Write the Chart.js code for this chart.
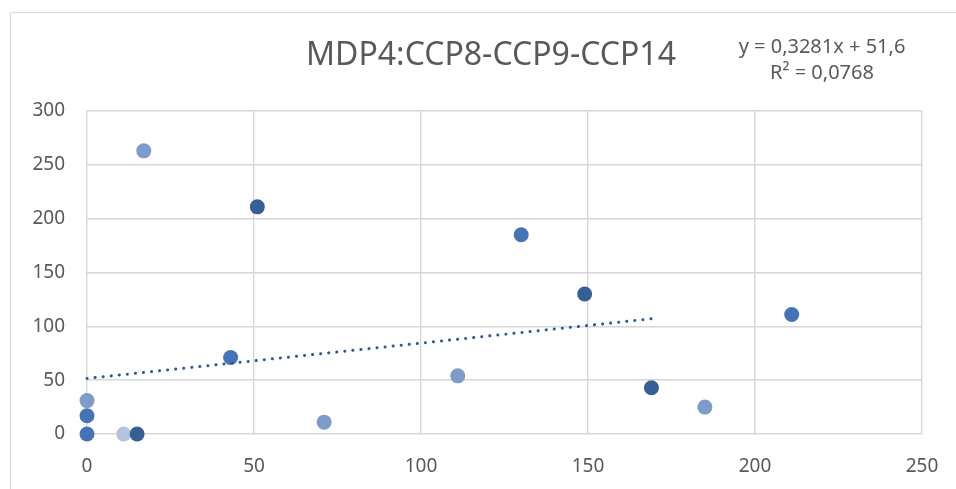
<!DOCTYPE html>
<html>
<head>
<meta charset="utf-8">
<script src="https://cdn.jsdelivr.net/npm/chart.js@4"></script>
<style>
  html, body { margin: 0; padding: 0; background: #ffffff; }
  #wrap { width: 956px; height: 489px; }
</style>
</head>
<body>
<div id="wrap"><canvas id="c" width="956" height="489"></canvas></div>
<script>
// Samples grouped by marker shade
const darkX = [51, 149, 169, 15];
const darkY = [211, 130, 43, 0];
const midX = [130, 211, 43, 0, 0];
const midY = [185, 111, 71, 17, 0];
const lightX = [17, 111, 71, 185, 0];
const lightY = [263, 54, 11, 25, 31];
const paleX = [11];
const paleY = [0];

// Linear trend fitted to the samples
const trendSlope = 0.3281;
const trendIntercept = 51.6;
const trendRange = [0, 169];
const equationLines = ['y = 0,3281x + 51,6', 'R\u00B2 = 0,0768'];
const chartTitle = 'MDP4:CCP8-CCP9-CCP14';

const xTicks = [0, 50, 100, 150, 200, 250];
const yTicks = [0, 50, 100, 150, 200, 250, 300];

const FONT = '"Noto Sans", "Open Sans", sans-serif';
const TEXT = '#595959';

const pts = (xs, ys) => xs.map((x, i) => ({ x: x, y: ys[i] }));
const trendPts = trendRange.map(x => ({ x: x, y: trendSlope * x + trendIntercept }));

const frame = {
  id: 'frame',
  beforeDraw(chart) {
    const ctx = chart.ctx;
    ctx.save();
    ctx.strokeStyle = '#D9D9D9';
    ctx.lineWidth = 1;
    ctx.beginPath();
    ctx.moveTo(10.5, 489);
    ctx.lineTo(10.5, 12.5);
    ctx.lineTo(956, 12.5);
    ctx.stroke();
    ctx.restore();
  },
  afterDraw(chart) {
    const ctx = chart.ctx;
    ctx.save();
    ctx.fillStyle = TEXT;
    ctx.textAlign = 'center';
    ctx.textBaseline = 'middle';
    ctx.font = '32px ' + FONT;
    ctx.fillText(chartTitle, 491, 56);
    ctx.font = '20px ' + FONT;
    ctx.fillText(equationLines[0], 822, 47);
    ctx.fillText(equationLines[1], 822, 73);
    ctx.restore();
  }
};

const marker = (color) => ({
  showLine: false,
  clip: false,
  pointRadius: 7.5,
  pointHoverRadius: 7.5,
  pointBackgroundColor: color,
  pointBorderColor: color,
  pointBorderWidth: 0
});

new Chart(document.getElementById('c'), {
  type: 'scatter',
  data: {
    datasets: [
      Object.assign({ label: 'dark', data: pts(darkX, darkY), order: 2 }, marker('#375F94')),
      Object.assign({ label: 'mid', data: pts(midX, midY), order: 2 }, marker('#4673B4')),
      Object.assign({ label: 'light', data: pts(lightX, lightY), order: 2 }, marker('#7E9BC9')),
      Object.assign({ label: 'pale', data: pts(paleX, paleY), order: 2 }, marker('#B4C3DE')),
      {
        label: 'trend',
        data: trendPts,
        showLine: true,
        clip: false,
        order: 0,
        borderColor: '#2F5895',
        borderWidth: 3,
        borderDash: [0.1, 8],
        borderCapStyle: 'round',
        pointRadius: 0,
        fill: false
      }
    ]
  },
  options: {
    responsive: false,
    animation: false,
    layout: { padding: { left: 0, right: 34, top: 111, bottom: 0 } },
    plugins: {
      legend: { display: false },
      tooltip: { enabled: false },
      title: { display: false }
    },
    scales: {
      x: {
        type: 'linear',
        min: 0,
        max: 250,
        afterBuildTicks(scale) { scale.ticks = xTicks.map(v => ({ value: v })); },
        afterFit(scale) { scale.height = 55; scale.paddingRight = 0; scale.paddingLeft = 0; },
        grid: { color: '#D6D6D6', lineWidth: 1.4, drawTicks: false },
        border: { display: false },
        ticks: { color: TEXT, font: { family: FONT, size: 19 }, padding: 21, maxRotation: 0 }
      },
      y: {
        type: 'linear',
        min: 0,
        max: 300,
        afterBuildTicks(scale) { scale.ticks = yTicks.map(v => ({ value: v })); },
        afterFit(scale) { scale.width = 87; },
        grid: { color: '#D6D6D6', lineWidth: 1.4, drawTicks: false },
        border: { display: false },
        ticks: { color: TEXT, font: { family: FONT, size: 19 }, padding: 22 }
      }
    }
  },
  plugins: [frame]
});
</script>
</body>
</html>
